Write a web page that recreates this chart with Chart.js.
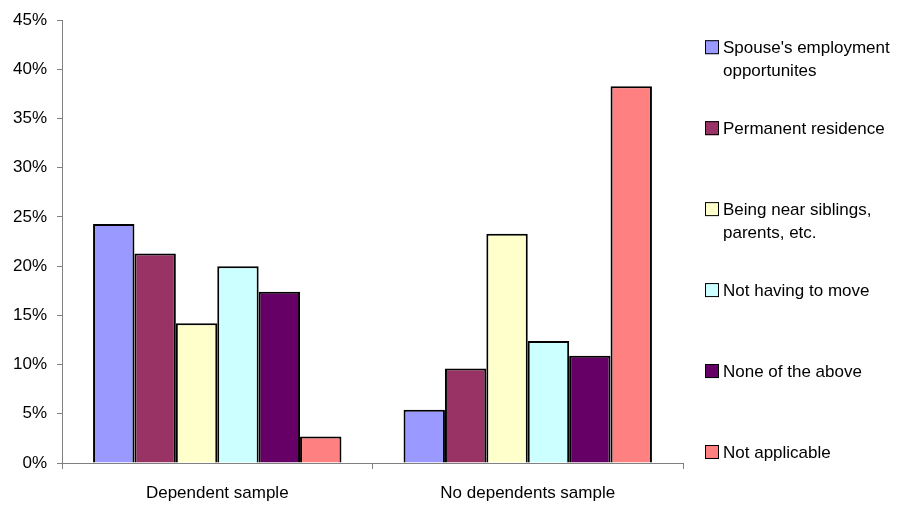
<!DOCTYPE html>
<html>
<head>
<meta charset="utf-8">
<script src="https://cdn.jsdelivr.net/npm/chart.js@4/dist/chart.umd.min.js"></script>
<style>
  html, body { margin: 0; padding: 0; background: #ffffff; }
  #wrap { width: 899px; height: 506px; }
</style>
</head>
<body>
<div id="wrap"><canvas id="chart" width="899" height="506"></canvas></div>
<script>
// Sample groups on the category axis
const categories = ['Dependent sample', 'No dependents sample'];

// Legend text, one entry per series (array items are separate lines)
const seriesNames = [
  ["Spouse's employment", 'opportunites'],
  ['Permanent residence'],
  ['Being near siblings,', 'parents, etc.'],
  ['Not having to move'],
  ['None of the above'],
  ['Not applicable']
];

// Share of respondents (%) for each group
const spouseEmployment = [24.3, 5.4];
const permanentResidence = [21.3, 9.6];
const nearFamily = [14.2, 23.3];
const notHavingToMove = [20.0, 12.4];
const noneOfTheAbove = [17.4, 10.9];
const notApplicable = [2.7, 38.3];

// Value axis ticks
const yTicks = [0, 5, 10, 15, 20, 25, 30, 35, 40, 45];

const seriesValues = [spouseEmployment, permanentResidence, nearFamily, notHavingToMove, noneOfTheAbove, notApplicable];
const seriesColors = ['#9999FF', '#993366', '#FFFFCC', '#CCFFFF', '#660066', '#FF8080'];

const FONT = 'Liberation Sans, Arial, sans-serif';
const AXIS_GREY = '#808080';

// Right-hand legend with wrapped entries spread down the plot height
const sideLegend = {
  id: 'sideLegend',
  afterDraw(chart) {
    const ctx = chart.ctx;
    const area = chart.chartArea;
    const x0 = area.right + 22;
    const first = area.top + 27;
    const last = area.bottom - 11;
    const n = chart.data.datasets.length;
    const step = (last - first) / (n - 1);
    const lineH = 23;
    ctx.save();
    ctx.font = '17px ' + FONT;
    ctx.textBaseline = 'middle';
    ctx.textAlign = 'left';
    chart.data.datasets.forEach((ds, i) => {
      const y = first + i * step;
      ctx.fillStyle = ds.backgroundColor;
      ctx.fillRect(x0, y - 7, 14, 14);
      ctx.strokeStyle = '#000000';
      ctx.lineWidth = 1;
      ctx.strokeRect(x0 + 0.5, y - 6.5, 13, 13);
      ctx.fillStyle = '#000000';
      ds.legendLines.forEach((line, j) => {
        ctx.fillText(line, x0 + 18, y + j * lineH + 1);
      });
    });
    ctx.restore();
  }
};

new Chart(document.getElementById('chart'), {
  type: 'bar',
  data: {
    labels: categories,
    datasets: seriesValues.map((vals, i) => ({
      label: seriesNames[i].join(' '),
      legendLines: seriesNames[i],
      data: vals,
      backgroundColor: seriesColors[i],
      borderColor: '#000000',
      borderWidth: 2,
      categoryPercentage: 0.8,
      barPercentage: 1.0
    }))
  },
  options: {
    responsive: false,
    animation: false,
    devicePixelRatio: 1,
    layout: { padding: { top: 17, right: 216, bottom: 0, left: 0 } },
    plugins: {
      legend: { display: false },
      tooltip: { enabled: false }
    },
    scales: {
      x: {
        offset: true,
        grid: {
          offset: true,
          drawOnChartArea: false,
          drawTicks: true,
          tickLength: 6,
          color: AXIS_GREY
        },
        border: { display: true, color: AXIS_GREY, width: 1 },
        ticks: {
          color: '#000000',
          padding: 14,
          font: { family: FONT, size: 17 }
        },
        afterFit(scale) { scale.height = 43; }
      },
      y: {
        min: 0,
        max: 45,
        afterBuildTicks(scale) { scale.ticks = yTicks.map(v => ({ value: v })); },
        grid: {
          drawOnChartArea: false,
          drawTicks: true,
          tickLength: 5,
          color: AXIS_GREY
        },
        border: { display: true, color: AXIS_GREY, width: 1 },
        ticks: {
          color: '#000000',
          padding: 10,
          font: { family: FONT, size: 17 },
          callback: v => v + '%'
        },
        afterFit(scale) { scale.width = 62; }
      }
    }
  },
  plugins: [sideLegend]
});
</script>
</body>
</html>
